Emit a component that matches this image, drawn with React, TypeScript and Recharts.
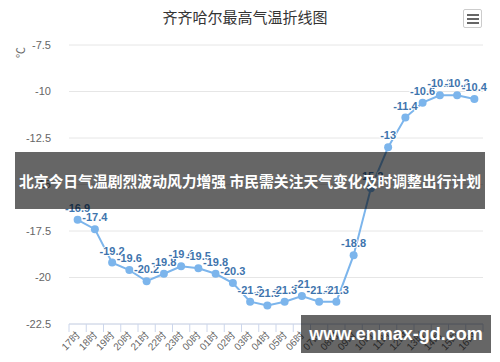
import { LineChart, Line, XAxis, YAxis, CartesianGrid } from "recharts";

const hours = [
  "17时", "18时", "19时", "20时", "21时", "22时", "23时", "00时",
  "01时", "02时", "03时", "04时", "05时", "06时", "07时", "08时",
  "09时", "10时", "11时", "12时", "13时", "14时", "15时", "16时",
];
const maxTemps = [
  -16.9, -17.4, -19.2, -19.6, -20.2, -19.8, -19.4, -19.5,
  -19.8, -20.3, -21.3, -21.5, -21.3, -21, -21.3, -21.3,
  -18.8, -15.2, -13, -11.4, -10.6, -10.2, -10.2, -10.4,
];
const yTicks = [-22.5, -20, -17.5, -15, -12.5, -10, -7.5];

const data = hours.map((h, i) => ({ time: h, temp: maxTemps[i] }));

const FONT = '"Liberation Sans", Arial, "Noto Sans CJK SC", sans-serif';
// plot is 414px wide; each hour gets an equal slot, points sit in the middle
const BAND = 414 / hours.length;

function XTick(props: any) {
  const { x, y, payload, index } = props;
  return (
    <g>
      <line x1={x - BAND / 2} y1={y} x2={x - BAND / 2} y2={y + 8} stroke="#ccd6eb" />
      {index === hours.length - 1 && (
        <line x1={x + BAND / 2} y1={y} x2={x + BAND / 2} y2={y + 8} stroke="#ccd6eb" />
      )}
      <text
        x={x + 3}
        y={y + 12}
        transform={`rotate(-45 ${x + 3} ${y + 12})`}
        textAnchor="end"
        fontSize={10}
        fill="#666"
        fontFamily={FONT}
      >
        {payload.value}
      </text>
    </g>
  );
}

function TempLabel(props: any) {
  const { x, y, value } = props;
  return (
    <text
      x={x}
      y={y - 8}
      textAnchor="middle"
      fontSize={11}
      fontWeight="bold"
      fill="#3e74ad"
      stroke="#fff"
      strokeWidth={2}
      paintOrder="stroke"
      fontFamily={FONT}
    >
      {value}
    </text>
  );
}

export default function App() {
  return (
    <div style={{ position: "fixed", left: 0, top: 0, width: 500, height: 362, background: "#fff", fontFamily: FONT }}>
      <div
        style={{
          position: "absolute", left: 0, width: 490, top: 6, textAlign: "center",
          fontSize: 15, color: "#333", fontFamily: '"Noto Sans CJK SC", sans-serif',
        }}
      >
        齐齐哈尔最高气温折线图
      </div>
      <div
        style={{
          position: "absolute", left: 463, top: 9, width: 19, height: 19, boxSizing: "border-box",
          border: "1px solid #ccc", borderRadius: 2, background: "#fff",
        }}
      >
        {[4, 8, 12].map((t) => (
          <div key={t} style={{ position: "absolute", left: 3, top: t - 0.5, width: 12, height: 2.5, background: "#666" }} />
        ))}
      </div>
      <LineChart width={500} height={362} data={data} margin={{ top: 45, right: 17, bottom: 0, left: 0 }}>
        <CartesianGrid vertical={false} stroke="#e6e6e6" />
        <XAxis
          dataKey="time"
          interval={0}
          height={38}
          padding={{ left: BAND / 2, right: BAND / 2 }}
          tickLine={false}
          tickSize={0}
          tickMargin={0}
          axisLine={{ stroke: "#ccd6eb" }}
          tick={<XTick />}
        />
        <YAxis
          width={69}
          domain={[-22.5, -7.5]}
          ticks={yTicks}
          axisLine={false}
          tickLine={false}
          tickMargin={12}
          tick={{ fontSize: 11, fill: "#666", fontFamily: FONT }}
          label={{ value: "℃", angle: -90, position: "insideTopLeft", dx: 12, dy: 8, fill: "#666", fontSize: 11 }}
        />
        <Line
          dataKey="temp"
          stroke="#7cb5ec"
          strokeWidth={2}
          dot={{ r: 4, fill: "#7cb5ec", stroke: "#7cb5ec", strokeWidth: 0 }}
          label={<TempLabel />}
          isAnimationActive={false}
        />
      </LineChart>
      <div
        style={{
          position: "absolute", left: 15, top: 152, width: 470, height: 57, background: "rgba(0,0,0,0.6)",
          color: "#fff", fontWeight: "bold", fontSize: 14.8, lineHeight: "57px", textAlign: "center",
          whiteSpace: "nowrap", fontFamily: '"Noto Sans CJK SC", sans-serif',
        }}
      >
        北京今日气温剧烈波动风力增强 市民需关注天气变化及时调整出行计划
      </div>
      <div
        style={{
          position: "absolute", left: 301, top: 315, width: 190, height: 38, background: "rgba(0,0,0,0.6)",
          color: "#fff", fontWeight: "bold", fontSize: 18, lineHeight: "38px", textAlign: "center",
          fontFamily: '"Liberation Sans", Arial, sans-serif',
        }}
      >
        www.enmax-gd.com
      </div>
    </div>
  );
}
